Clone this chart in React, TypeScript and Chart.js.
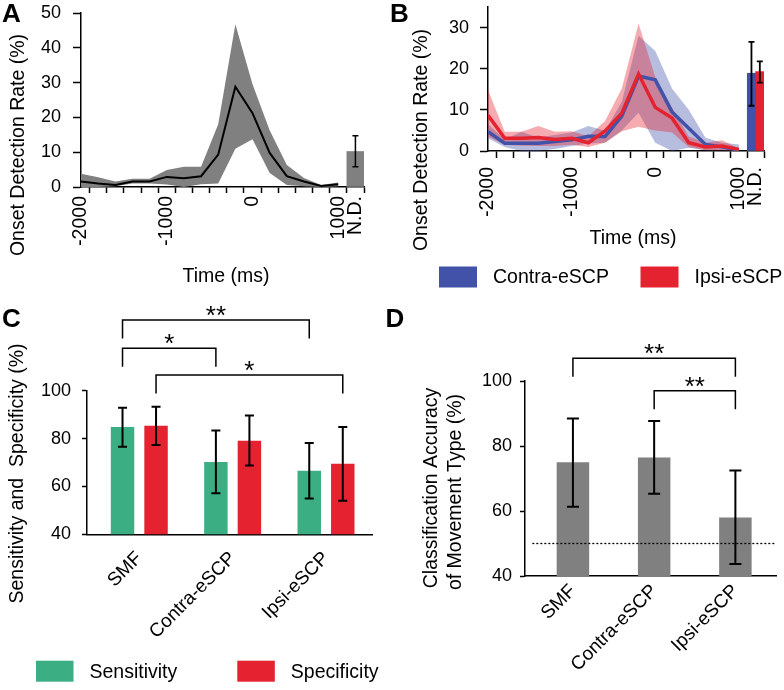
import React, { useEffect, useRef } from 'react';
import { Chart, registerables } from 'chart.js';

Chart.register(...registerables);

const FONT = "'Liberation Sans', Arial, Helvetica, sans-serif";
Chart.defaults.font.family = FONT;
Chart.defaults.color = '#000';

// ---------------- shared time axis (panels A, B) ----------------
const timeMs = [-2000, -1800, -1600, -1400, -1200, -1000, -800, -600, -400, -200, 0, 200, 400, 600, 800, 1000];
const timeLabelValues = [-2000, -1000, 0, 1000];
const ndPosition = 1200;
const ndLabel = 'N.D.';

// ---------------- Panel A ----------------
const aMean = [1.6, 1.0, 0.6, 1.6, 1.6, 2.9, 2.5, 3.1, 9.3, 28.8, 21.2, 9.8, 3.1, 1.6, 0.3, 0.8];
const aUpper = [3.8, 2.8, 1.6, 2.4, 2.4, 4.9, 5.8, 5.8, 18.0, 46.8, 29.5, 16.3, 6.3, 2.6, 0.6, 1.3];
const aLower = [0, 0, 0.2, 1.0, 1.0, 0.7, 0, 0.8, 1.0, 11.0, 13.7, 4.0, 0.6, 0.2, 0, 0.2];
const aND = [10.2];
const aNDLow = [5.8];
const aNDHigh = [14.7];

// ---------------- Panel B ----------------
const bContraMean = [4.7, 1.9, 1.9, 1.9, 2.3, 2.7, 3.6, 3.5, 8.5, 18.2, 17.3, 9.5, 5.5, 1.6, 1.0, 0.2];
const bContraUpper = [6.5, 2.8, 4.7, 3.3, 3.9, 4.5, 6.1, 4.9, 12.0, 28.0, 24.3, 15.2, 10.0, 3.2, 2.0, 1.6];
const bContraLower = [3.1, 1.0, 0.0, 0.0, 0.5, 1.2, 1.8, 2.0, 5.0, 9.3, 2.0, 0.0, 0.8, 0.2, 0.2, 0.0];
const bIpsiMean = [8.7, 3.1, 3.1, 3.3, 2.8, 3.1, 2.0, 4.9, 9.2, 18.7, 10.6, 8.0, 2.0, 1.0, 1.2, 0.4];
const bIpsiUpper = [14.8, 4.7, 4.7, 6.1, 4.7, 4.8, 3.6, 7.3, 15.2, 31.0, 18.0, 10.5, 3.5, 2.0, 2.6, 0.6];
const bIpsiLower = [3.5, 1.5, 1.3, 1.2, 1.2, 1.5, 1.0, 2.0, 4.8, 5.9, 5.0, 4.5, 1.0, 0.2, 0.2, 0.2];
const bContraND = [18.9];
const bContraNDLow = [11.0];
const bContraNDHigh = [26.5];
const bIpsiND = [19.3];
const bIpsiNDLow = [16.6];
const bIpsiNDHigh = [21.8];

// ---------------- Panel C ----------------
const categories = ['SMF', 'Contra-eSCP', 'Ipsi-eSCP'];
const sensitivity = [84.8, 70.2, 66.6];
const sensitivityLow = [76.6, 57.2, 55.0];
const sensitivityHigh = [92.9, 83.4, 78.1];
const specificity = [85.4, 79.1, 69.5];
const specificityLow = [77.3, 68.7, 54.0];
const specificityHigh = [93.3, 89.6, 84.8];
// comparisons: [dataset, category] pairs
const cComparisons = [
  { label: '**', from: [0, 0], to: [0, 2] },
  { label: '*', from: [0, 0], to: [0, 1] },
  { label: '*', from: [1, 0], to: [1, 2] },
];

// ---------------- Panel D ----------------
const accuracy = [75.0, 76.5, 58.0];
const accuracyLow = [61.3, 65.3, 43.7];
const accuracyHigh = [88.5, 87.7, 72.5];
const chanceLevel = 50;
const dComparisons = [
  { label: '**', from: [0, 0], to: [0, 2] },
  { label: '**', from: [0, 1], to: [0, 2] },
];

// ---------------- colours ----------------
const GRAY = '#808080';
const BLUE = '#4152a8';
const RED = '#e52330';
const GREEN = '#3cae84';
const BLUE_BAND = 'rgba(65,82,168,0.38)';
const RED_BAND = 'rgba(229,35,48,0.38)';
const CLEAR = 'rgba(0,0,0,0)';

const TITLE_FONT = `19.5px ${FONT}`;
const LETTER_FONT = `bold 26px ${FONT}`;

// ---------------- annotation plugin factory ----------------
function makeAnnot(cfg: any) {
  return {
    id: 'annot',
    afterDraw(chart: any) {
      const ctx = chart.ctx;
      const ys = chart.scales.y;
      const xs = chart.scales.x;
      ctx.save();
      // horizontal reference line
      if (cfg.hline) {
        const y = ys.getPixelForValue(cfg.hline.value);
        ctx.beginPath();
        ctx.setLineDash([2, 2]);
        ctx.lineWidth = 1.3;
        ctx.strokeStyle = '#000';
        ctx.moveTo(xs.getPixelForValue(cfg.hline.from), y);
        ctx.lineTo(chart.chartArea.right, y);
        ctx.stroke();
        ctx.setLineDash([]);
      }
      // error bars
      for (const e of cfg.errorBars || []) {
        const meta = chart.getDatasetMeta(e.dataset);
        meta.data.forEach((el: any, i: number) => {
          const x = el.x;
          const y1 = ys.getPixelForValue(e.low[i]);
          const y2 = ys.getPixelForValue(e.high[i]);
          ctx.beginPath();
          ctx.strokeStyle = '#000';
          ctx.lineWidth = e.width;
          ctx.moveTo(x, y1);
          ctx.lineTo(x, y2);
          ctx.moveTo(x - e.cap, y1);
          ctx.lineTo(x + e.cap, y1);
          ctx.moveTo(x - e.cap, y2);
          ctx.lineTo(x + e.cap, y2);
          ctx.stroke();
        });
      }
      // significance brackets
      (cfg.brackets || []).forEach((b: any, k: number) => {
        const lvl = cfg.bracketLevels[k];
        const x1 = chart.getDatasetMeta(b.from[0]).data[b.from[1]].x;
        const x2 = chart.getDatasetMeta(b.to[0]).data[b.to[1]].x;
        ctx.beginPath();
        ctx.strokeStyle = '#000';
        ctx.lineWidth = 1.5;
        ctx.moveTo(x1, lvl + cfg.leg);
        ctx.lineTo(x1, lvl);
        ctx.lineTo(x2, lvl);
        ctx.lineTo(x2, lvl + cfg.leg);
        ctx.stroke();
        ctx.fillStyle = '#000';
        ctx.font = `26px ${FONT}`;
        ctx.textAlign = 'center';
        ctx.textBaseline = 'alphabetic';
        ctx.fillText(b.label, (x1 + x2) / 2, lvl + 4);
      });
      // legend
      for (const l of cfg.legend || []) {
        ctx.fillStyle = l.color;
        ctx.fillRect(l.x, l.y, l.w, l.h);
        ctx.fillStyle = '#000';
        ctx.font = TITLE_FONT;
        ctx.textAlign = 'left';
        ctx.textBaseline = 'middle';
        ctx.fillText(l.label, l.x + l.gap, l.y + l.h / 2 + 1);
      }
      // texts
      for (const t of cfg.texts || []) {
        ctx.save();
        ctx.fillStyle = '#000';
        ctx.font = t.font || TITLE_FONT;
        ctx.textAlign = t.align || 'center';
        ctx.textBaseline = t.baseline || 'middle';
        ctx.translate(t.x, t.y);
        if (t.rotate) ctx.rotate(t.rotate);
        ctx.fillText(t.text, 0, 0);
        ctx.restore();
      }
      ctx.restore();
    },
  };
}

// ---------------- scale helpers ----------------
function zeroPad(s: any) {
  s.paddingLeft = 0;
  s.paddingRight = 0;
  s.paddingTop = 0;
  s.paddingBottom = 0;
}

function timeScaleX(height: number, tickLen: number, pad: number) {
  return {
    type: 'linear',
    min: -2000,
    max: 1300,
    offset: false,
    border: { display: true, color: '#000', width: 1.5 },
    grid: { drawOnChartArea: false, drawTicks: true, tickLength: tickLen, tickColor: '#000', tickWidth: 1.5 },
    ticks: {
      autoSkip: false,
      minRotation: 90,
      maxRotation: 90,
      padding: pad,
      color: '#000',
      font: { size: 19.5, family: FONT },
      callback: (v: number) => (v === ndPosition ? ndLabel : timeLabelValues.includes(v) ? String(v) : ''),
    },
    afterBuildTicks: (s: any) => {
      s.ticks = [...timeMs, ndPosition].map((v) => ({ value: v }));
    },
    afterFit: (s: any) => {
      s.height = height;
      zeroPad(s);
    },
  };
}

function categoryScaleX(min: number, height: number, pad: number) {
  return {
    type: 'linear',
    min,
    max: 2.5,
    offset: false,
    border: { display: true, color: '#000', width: 1.5 },
    grid: { drawOnChartArea: false, drawTicks: false, offset: false },
    ticks: {
      autoSkip: false,
      minRotation: 45,
      maxRotation: 45,
      padding: pad,
      color: '#000',
      font: { size: 19, family: FONT },
      callback: (v: number) => categories[v] ?? '',
    },
    afterBuildTicks: (s: any) => {
      s.ticks = categories.map((_, i) => ({ value: i }));
    },
    afterFit: (s: any) => {
      s.height = height;
      zeroPad(s);
    },
  };
}

function valueScaleY(min: number, max: number, step: number, width: number, tickLen: number, pad: number) {
  return {
    type: 'linear',
    min,
    max,
    border: { display: true, color: '#000', width: 1.5 },
    grid: { drawOnChartArea: false, drawTicks: true, tickLength: tickLen, tickColor: '#000', tickWidth: 1.5 },
    ticks: { stepSize: step, padding: pad, color: '#000', font: { size: 18, family: FONT } },
    afterBuildTicks: (s: any) => {
      s.ticks = s.ticks.filter((t: any) => Math.abs(((t.value - min) / step) - Math.round((t.value - min) / step)) < 1e-6);
    },
    afterFit: (s: any) => {
      s.width = width;
      zeroPad(s);
    },
  };
}

const series = (vals: number[]) => timeMs.map((t, i) => ({ x: t, y: vals[i] }));
const band = (vals: number[], fill: any, color: string, order: number) => ({
  type: 'line',
  data: series(vals),
  borderColor: CLEAR,
  borderWidth: 0,
  pointRadius: 0,
  fill,
  backgroundColor: color,
  tension: 0,
  order,
});
const meanLine = (vals: number[], color: string, width: number, order: number) => ({
  type: 'line',
  data: series(vals),
  borderColor: color,
  borderWidth: width,
  pointRadius: 0,
  fill: false,
  tension: 0,
  order,
});

const baseOptions = (padding: any, scales: any) => ({
  responsive: false,
  animation: false,
  devicePixelRatio: 1,
  events: [],
  layout: { padding },
  plugins: { legend: { display: false }, tooltip: { enabled: false } },
  scales,
});

// ---------------- chart configs ----------------
function configA(): any {
  return {
    type: 'line',
    data: {
      datasets: [
        band(aLower, false, CLEAR, 6),
        band(aUpper, '-1', GRAY, 5),
        meanLine(aMean, '#000', 2, 1),
        {
          type: 'bar',
          data: aND.map((v) => ({ x: ndPosition, y: v })),
          backgroundColor: GRAY,
          categoryPercentage: 1,
          barPercentage: 1,
          order: 2,
        },
      ],
    },
    options: baseOptions({ left: 0, top: 13, right: 20, bottom: 0 }, {
      x: timeScaleX(113, 6, 3),
      y: valueScaleY(0, 50, 10, 81, 8, 12),
    }),
    plugins: [
      makeAnnot({
        errorBars: [{ dataset: 3, low: aNDLow, high: aNDHigh, cap: 3, width: 1.5 }],
        texts: [
          { text: 'A', x: 2, y: 22, font: LETTER_FONT, align: 'left', baseline: 'alphabetic' },
          { text: 'Onset Detection Rate (%)', x: 18.5, y: 145, rotate: -Math.PI / 2 },
          { text: 'Time (ms)', x: 226, y: 277 },
        ],
      }),
    ],
  };
}

function configB(): any {
  return {
    type: 'line',
    data: {
      datasets: [
        band(bContraLower, false, CLEAR, 10),
        band(bContraUpper, '-1', BLUE_BAND, 9),
        band(bIpsiLower, false, CLEAR, 8),
        band(bIpsiUpper, '-1', RED_BAND, 7),
        meanLine(bContraMean, BLUE, 3.5, 4),
        meanLine(bIpsiMean, RED, 3.5, 3),
        {
          type: 'bar',
          data: bContraND.map((v) => ({ x: ndPosition, y: v })),
          backgroundColor: BLUE,
          categoryPercentage: 1,
          barPercentage: 1,
          order: 1,
        },
        {
          type: 'bar',
          data: bIpsiND.map((v) => ({ x: ndPosition, y: v })),
          backgroundColor: RED,
          categoryPercentage: 1,
          barPercentage: 1,
          order: 2,
        },
      ],
    },
    options: baseOptions({ left: 0, top: 7, right: 20, bottom: 0 }, {
      x: timeScaleX(149, 7, 9),
      y: valueScaleY(0, 35, 10, 104, 8, 11),
    }),
    plugins: [
      makeAnnot({
        errorBars: [
          { dataset: 6, low: bContraNDLow, high: bContraNDHigh, cap: 3, width: 1.8 },
          { dataset: 7, low: bIpsiNDLow, high: bIpsiNDHigh, cap: 3, width: 1.8 },
        ],
        legend: [
          { label: 'Contra-eSCP', color: BLUE, x: 55, y: 266.5, w: 38, h: 21, gap: 54 },
          { label: 'Ipsi-eSCP', color: RED, x: 256.5, y: 266.5, w: 38, h: 21, gap: 54 },
        ],
        texts: [
          { text: 'B', x: 6, y: 22, font: LETTER_FONT, align: 'left', baseline: 'alphabetic' },
          { text: 'Onset Detection Rate (%)', x: 38, y: 140, rotate: -Math.PI / 2 },
          { text: 'Time (ms)', x: 249, y: 239 },
        ],
      }),
    ],
  };
}

function configC(): any {
  return {
    type: 'bar',
    data: {
      datasets: [
        {
          label: 'Sensitivity',
          data: categories.map((_, i) => ({ x: i, y: sensitivity[i] })),
          backgroundColor: GREEN,
          categoryPercentage: 0.718,
          barPercentage: 0.7,
        },
        {
          label: 'Specificity',
          data: categories.map((_, i) => ({ x: i, y: specificity[i] })),
          backgroundColor: RED,
          categoryPercentage: 0.718,
          barPercentage: 0.7,
        },
      ],
    },
    options: baseOptions({ left: 0, top: 90.7, right: 11.3, bottom: 0 }, {
      x: categoryScaleX(-0.56, 155.7, 13),
      y: valueScaleY(40, 100, 20, 87, 5, 11),
    }),
    plugins: [
      makeAnnot({
        errorBars: [
          { dataset: 0, low: sensitivityLow, high: sensitivityHigh, cap: 4.5, width: 2 },
          { dataset: 1, low: specificityLow, high: specificityHigh, cap: 4.5, width: 2 },
        ],
        brackets: cComparisons,
        bracketLevels: [20, 48.3, 75],
        leg: 18.5,
        legend: [
          { label: 'Sensitivity', color: GREEN, x: 36, y: 360.7, w: 37.5, h: 21, gap: 53.5 },
          { label: 'Specificity', color: RED, x: 237.3, y: 360.7, w: 37.5, h: 21, gap: 53.5 },
        ],
        texts: [
          { text: 'C', x: 2, y: 27, font: LETTER_FONT, align: 'left', baseline: 'alphabetic' },
          { text: 'Sensitivity and  Specificity (%)', x: 17.5, y: 173.5, rotate: -Math.PI / 2 },
        ],
      }),
    ],
  };
}

function configD(): any {
  return {
    type: 'bar',
    data: {
      datasets: [
        {
          label: 'Accuracy',
          data: categories.map((_, i) => ({ x: i, y: accuracy[i] })),
          backgroundColor: GRAY,
          categoryPercentage: 1,
          barPercentage: 0.4,
        },
      ],
    },
    options: baseOptions({ left: 0, top: 81, right: 8, bottom: 0 }, {
      x: categoryScaleX(-0.59, 114, 4),
      y: valueScaleY(40, 100, 20, 141, 5, 8),
    }),
    plugins: [
      makeAnnot({
        hline: { value: chanceLevel, from: -0.5 },
        errorBars: [{ dataset: 0, low: accuracyLow, high: accuracyHigh, cap: 6, width: 2 }],
        brackets: dComparisons,
        bracketLevels: [58.3, 90.7],
        leg: 18.5,
        texts: [
          { text: 'D', x: 1.5, y: 27, font: LETTER_FONT, align: 'left', baseline: 'alphabetic' },
          { text: 'Classification Accuracy', x: 48, y: 188, rotate: -Math.PI / 2 },
          { text: 'of Movement Type (%)', x: 71.5, y: 192, rotate: -Math.PI / 2 },
        ],
      }),
    ],
  };
}

function ChartCanvas({ left, top, width, height, build }: any) {
  const ref = useRef<HTMLCanvasElement>(null);
  useEffect(() => {
    const chart = new Chart(ref.current as HTMLCanvasElement, build());
    return () => chart.destroy();
  }, []);
  return (
    <canvas
      ref={ref}
      width={width}
      height={height}
      style={{ position: 'absolute', left, top, width, height }}
    />
  );
}

export default function App() {
  return (
    <div style={{ position: 'fixed', left: 0, top: 0, width: 784, height: 690, background: '#fff', overflow: 'hidden' }}>
      <ChartCanvas left={0} top={0} width={384} height={300} build={configA} />
      <ChartCanvas left={384} top={0} width={400} height={300} build={configB} />
      <ChartCanvas left={0} top={300} width={384} height={390} build={configC} />
      <ChartCanvas left={384} top={300} width={400} height={390} build={configD} />
    </div>
  );
}
